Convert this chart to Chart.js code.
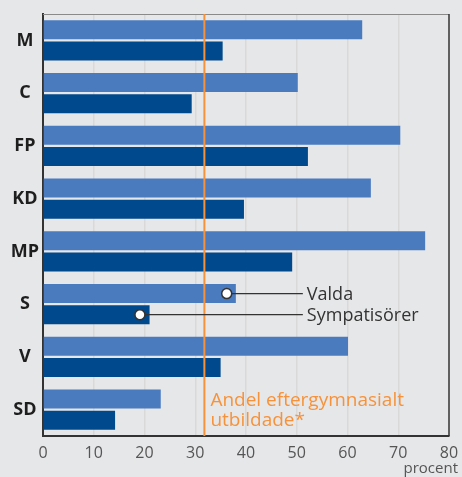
<!DOCTYPE html>
<html>
<head>
<meta charset="utf-8">
<script src="https://cdn.jsdelivr.net/npm/chart.js@4"></script>
<style>
  html, body { margin: 0; padding: 0; background: #e6e7e9; }
  #wrap { width: 462px; height: 477px; position: relative; }
</style>
</head>
<body>
<div id="wrap"><canvas id="chart" width="462" height="477"></canvas></div>
<script>
// parties and shares (percent)
var parties = ["M", "C", "FP", "KD", "MP", "S", "V", "SD"];
var valda = [62.9, 50.2, 70.4, 64.6, 75.3, 38.0, 60.1, 23.2];
var sympatisorer = [35.4, 29.3, 52.2, 39.6, 49.1, 21.0, 35.0, 14.2];
var xTicks = [0, 10, 20, 30, 40, 50, 60, 70, 80];

// share of population with post-secondary education
var andelEftergymnasial = 31.8;

var font = "'Open Sans', 'DejaVu Sans', sans-serif";

// orange reference line, callouts, frame and unit label
var extras = {
  id: "extras",
  afterDatasetsDraw: function (chart) {
    var ctx = chart.ctx;
    var a = chart.chartArea;
    var x = chart.scales.x;

    // frame top and right
    ctx.save();
    ctx.strokeStyle = "#8a8a8a";
    ctx.lineWidth = 1;
    ctx.beginPath();
    ctx.moveTo(a.left, a.top + 0.5);
    ctx.lineTo(a.right, a.top + 0.5);
    ctx.stroke();
    ctx.strokeStyle = "#333333";
    ctx.lineWidth = 1.5;
    ctx.beginPath();
    ctx.moveTo(a.right, a.top);
    ctx.lineTo(a.right, a.bottom);
    ctx.stroke();

    // orange line
    var ox = x.getPixelForValue(andelEftergymnasial);
    ctx.strokeStyle = "#f7923a";
    ctx.lineWidth = 2;
    ctx.beginPath();
    ctx.moveTo(ox, a.top);
    ctx.lineTo(ox, a.bottom);
    ctx.stroke();

    ctx.fillStyle = "#f7923a";
    ctx.font = "19px " + font;
    ctx.textAlign = "left";
    ctx.textBaseline = "alphabetic";
    ctx.fillText("Andel eftergymnasialt", ox + 6, 406);
    ctx.fillText("utbildade*", ox + 6, 426);

    // callouts on S
    var i = parties.indexOf("S");
    var m0 = chart.getDatasetMeta(0).data[i];
    var m1 = chart.getDatasetMeta(1).data[i];
    var endX = x.getPixelForValue(51.2);
    var pts = [[x.getPixelForValue(36.2), m0.y, "Valda"], [x.getPixelForValue(19.1), m1.y, "Sympatisörer"]];
    pts.forEach(function (p) {
      ctx.strokeStyle = "#333333";
      ctx.lineWidth = 1.2;
      ctx.beginPath();
      ctx.moveTo(p[0], p[1]);
      ctx.lineTo(endX, p[1]);
      ctx.stroke();
      ctx.beginPath();
      ctx.arc(p[0], p[1], 5, 0, 2 * Math.PI);
      ctx.fillStyle = "#ffffff";
      ctx.fill();
      ctx.lineWidth = 1.5;
      ctx.stroke();
      ctx.fillStyle = "#333333";
      ctx.font = "18px " + font;
      ctx.textBaseline = "middle";
      ctx.fillText(p[2], endX + 4, p[1] + 1);
    });

    // unit
    ctx.fillStyle = "#555555";
    ctx.font = "15px " + font;
    ctx.textAlign = "right";
    ctx.textBaseline = "alphabetic";
    ctx.fillText("procent", 458, 473);
    ctx.restore();
  }
};

new Chart(document.getElementById("chart").getContext("2d"), {
  type: "bar",
  data: {
    labels: parties,
    datasets: [
      { label: "Valda", data: valda, backgroundColor: "#4a7bbf" },
      { label: "Sympatisörer", data: sympatisorer, backgroundColor: "#00498d" }
    ]
  },
  options: {
    indexAxis: "y",
    responsive: false,
    animation: false,
    events: [],
    layout: { padding: { left: 0, top: 14, right: 13, bottom: 0 } },
    datasets: { bar: { categoryPercentage: 0.8, barPercentage: 0.9 } },
    plugins: { legend: { display: false }, tooltip: { enabled: false } },
    scales: {
      x: {
        min: 0,
        max: 80,
        afterBuildTicks: function (s) { s.ticks = xTicks.map(function (v) { return { value: v }; }); },
        afterFit: function (s) { s.height = 41; s.paddingLeft = 0; s.paddingRight = 0; },
        grid: {
          color: function (c) { return (c.tick.value === 0 || c.tick.value === 80) ? "rgba(0,0,0,0)" : "#d9d9d9"; },
          lineWidth: 1.5,
          drawTicks: false
        },
        border: { color: "#333333", width: 2 },
        ticks: { color: "#555555", font: { family: font, size: 16 }, padding: 8, maxRotation: 0 }
      },
      y: {
        afterFit: function (s) { s.width = 43; s.paddingTop = 0; s.paddingBottom = 0; },
        grid: { display: false, drawTicks: false },
        border: { color: "#333333", width: 2 },
        ticks: { color: "#1e1e1e", font: { family: font, size: 18, weight: "bold" }, crossAlign: "center", padding: 4 }
      }
    }
  },
  plugins: [extras]
});
</script>
</body>
</html>
